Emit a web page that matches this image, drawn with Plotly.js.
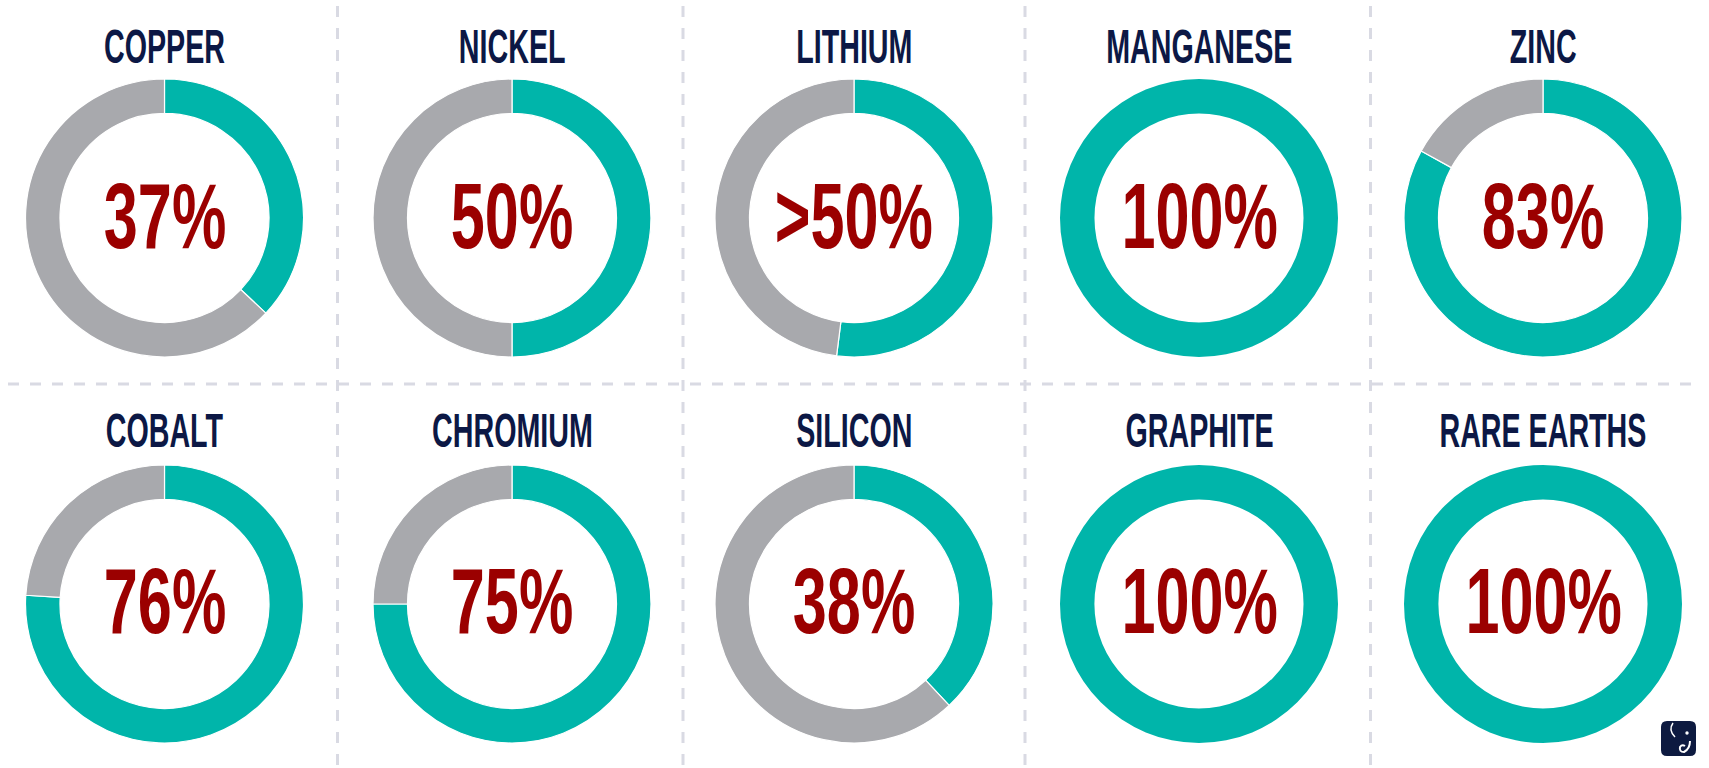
<!DOCTYPE html>
<html>
<head>
<meta charset="utf-8">
<script src="https://cdn.plot.ly/plotly-3.0.1.min.js"></script>
<style>
  html, body { margin: 0; padding: 0; background: #ffffff; }
  #chart { width: 1709px; height: 768px; }
</style>
</head>
<body>
<div id="chart"></div>
<script>
// ---- data ----
const minerals = ['COPPER', 'NICKEL', 'LITHIUM', 'MANGANESE', 'ZINC',
                  'COBALT', 'CHROMIUM', 'SILICON', 'GRAPHITE', 'RARE EARTHS'];
const shares = [37, 50, 52, 100, 83, 76, 75, 38, 100, 100];
const shareLabels = ['37%', '50%', '>50%', '100%', '83%', '76%', '75%', '38%', '100%', '100%'];

// ---- layout geometry (pixels) ----
const W = 1709, H = 768;
const colCenters = [164.5, 512, 854, 1199, 1543];
const rowCenters = [218, 604];
const titleY = [45.5, 430];
const numberY = [216, 601];
const R = 139;
const TEAL = '#00B5AA', GRAY = '#A8A9AD', NAVY = '#0C1845', RED = '#9B0000';
const FONT = 'Liberation Sans, Arial, sans-serif';

const data = [{
  type: 'scatter', x: [], y: [], showlegend: false, hoverinfo: 'skip'
}];
const annotations = [];

minerals.forEach((name, i) => {
  const col = i % 5, row = Math.floor(i / 5);
  const cx = colCenters[col], cy = rowCenters[row];
  const full = shares[i] >= 100 || shares[i] <= 0;
  data.push({
    type: 'pie',
    values: [shares[i], 100 - shares[i]],
    labels: ['share', 'rest'],
    marker: { colors: [TEAL, GRAY], line: { color: '#ffffff', width: full ? 0 : 1.2 } },
    sort: false,
    direction: 'clockwise',
    rotation: 0,
    hole: 0.752,
    textinfo: 'none',
    hoverinfo: 'skip',
    showlegend: false,
    domain: {
      x: [(cx - R) / W, (cx + R) / W],
      y: [1 - (cy + R) / H, 1 - (cy - R) / H]
    }
  });
  annotations.push({
    xref: 'x', yref: 'y', x: cx, y: titleY[row],
    text: name, showarrow: false, xanchor: 'center', yanchor: 'middle',
    font: { family: FONT, size: 49, color: NAVY, weight: 700 }
  });
  annotations.push({
    xref: 'x', yref: 'y', x: cx, y: numberY[row],
    text: shareLabels[i], showarrow: false, xanchor: 'center', yanchor: 'middle',
    font: { family: FONT, size: 92, color: RED, weight: 700 }
  });
});

// separators
const sepColor = '#D9DAE3';
const shapes = [];
[337.5, 683, 1025, 1370.5].forEach(x => {
  shapes.push({ type: 'line', xref: 'x', yref: 'y', x0: x, x1: x, y0: 6, y1: 768,
    line: { color: sepColor, width: 3, dash: '11px,11px' }, layer: 'below' });
});
shapes.push({ type: 'line', xref: 'x', yref: 'y', x0: 8, x1: 1702, y0: 384, y1: 384,
  line: { color: sepColor, width: 3, dash: '11px,11px' }, layer: 'below' });

// logo
shapes.push({ type: 'path', xref: 'x', yref: 'y',
  path: 'M1667,721 H1690 Q1696,721 1696,727 V750 Q1696,756 1690,756 H1667 Q1661,756 1661,750 V727 Q1661,721 1667,721 Z',
  fillcolor: '#0D1A40', line: { width: 0 }, layer: 'above' });
shapes.push({ type: 'path', xref: 'x', yref: 'y',
  path: 'M1673,723 Q1668,730 1675,737',
  line: { color: '#ffffff', width: 1.5 }, layer: 'above' });
shapes.push({ type: 'circle', xref: 'x', yref: 'y', x0: 1685.3, x1: 1688.7, y0: 731.3, y1: 734.7,
  fillcolor: '#ffffff', line: { width: 0 }, layer: 'above' });
shapes.push({ type: 'path', xref: 'x', yref: 'y',
  path: 'M1690,741 Q1690,749 1684,752 Q1679,752 1680,747 Q1682,744 1685,746',
  line: { color: '#ffffff', width: 2 }, layer: 'above' });

const layout = {
  width: W, height: H,
  margin: { l: 0, r: 0, t: 0, b: 0, pad: 0 },
  paper_bgcolor: '#ffffff', plot_bgcolor: 'rgba(0,0,0,0)',
  xaxis: { range: [0, W], visible: false, fixedrange: true },
  yaxis: { range: [H, 0], visible: false, fixedrange: true },
  showlegend: false,
  annotations: annotations,
  shapes: shapes
};

Plotly.newPlot('chart', data, layout, { staticPlot: true, displayModeBar: false }).then(() => {
  document.querySelectorAll('.annotation-text').forEach(t => {
    const fs = parseFloat(t.style.fontSize);
    const s = fs > 70 ? 0.665 : 0.585;
    t.style.transformBox = 'fill-box';
    t.style.transformOrigin = 'center';
    t.style.transform = 'scaleX(' + s + ')';
  });
});
</script>
</body>
</html>
